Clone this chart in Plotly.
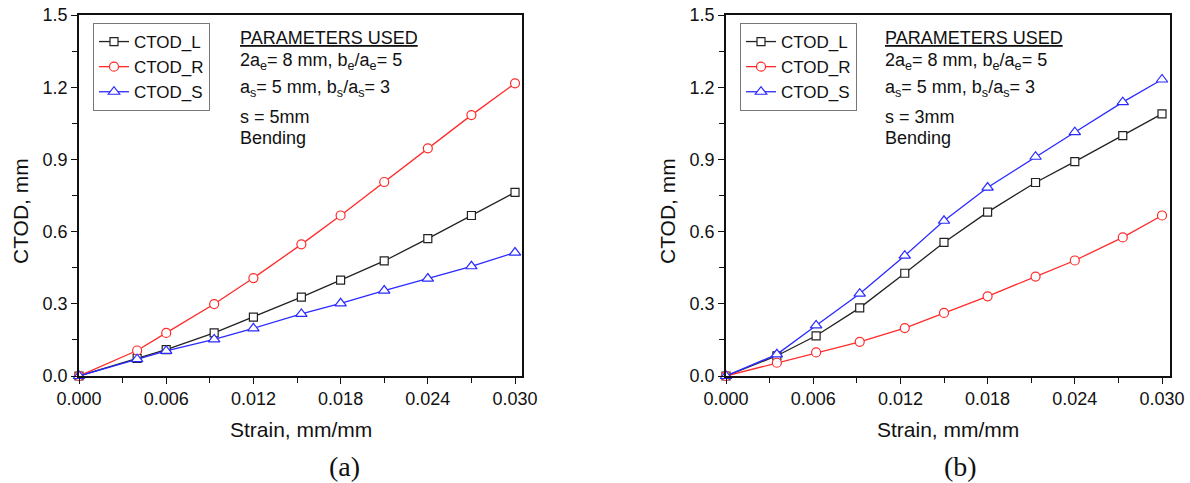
import plotly.graph_objects as go

# ---------------- data ----------------
strain_a = [0.0, 0.004, 0.006, 0.0093, 0.012, 0.0153, 0.018, 0.021, 0.024, 0.027, 0.030]
ctod_L_a = [0.0, 0.073, 0.110, 0.179, 0.245, 0.328, 0.398, 0.478, 0.571, 0.667, 0.763]
ctod_R_a = [0.0, 0.106, 0.179, 0.299, 0.407, 0.547, 0.667, 0.806, 0.946, 1.084, 1.216]
ctod_S_a = [0.0, 0.070, 0.104, 0.152, 0.198, 0.258, 0.302, 0.355, 0.405, 0.456, 0.513]

strain_b = [0.0, 0.0035, 0.0062, 0.0092, 0.0123, 0.015, 0.018, 0.0213, 0.024, 0.0273, 0.030]
ctod_L_b = [0.0, 0.084, 0.167, 0.283, 0.427, 0.555, 0.681, 0.804, 0.891, 0.999, 1.089]
ctod_R_b = [0.0, 0.055, 0.098, 0.142, 0.199, 0.262, 0.331, 0.413, 0.480, 0.576, 0.667]
ctod_S_b = [0.0, 0.090, 0.210, 0.342, 0.500, 0.645, 0.783, 0.911, 1.013, 1.138, 1.232]

series_names = ["CTOD_L", "CTOD_R", "CTOD_S"]
series_colors = ["#222222", "#ff2a2a", "#2a2aff"]
series_symbols = ["square", "circle", "triangle-up"]
series_sizes = [8, 9, 10]

param_lines_a = ["<u>PARAMETERS USED</u>",
                 "2a<sub>e</sub>= 8 mm, b<sub>e</sub>/a<sub>e</sub>= 5",
                 "a<sub>s</sub>= 5 mm, b<sub>s</sub>/a<sub>s</sub>= 3",
                 "s = 5mm",
                 "Bending"]
param_lines_b = ["<u>PARAMETERS USED</u>",
                 "2a<sub>e</sub>= 8 mm, b<sub>e</sub>/a<sub>e</sub>= 5",
                 "a<sub>s</sub>= 5 mm, b<sub>s</sub>/a<sub>s</sub>= 3",
                 "s = 3mm",
                 "Bending"]
panel_labels = ["(a)", "(b)"]
x_title = "Strain, mm/mm"
y_title = "CTOD, mm"

# ---------------- layout helpers ----------------
W, H = 1190, 483
FONT = "Liberation Sans, Arial, sans-serif"
INK = "#111111"


def px(x):
    return x / W


def py(y):
    return 1 - y / H


fig = go.Figure()

panels = [
    (strain_a, [ctod_L_a, ctod_R_a, ctod_S_a], "x", "y", "legend"),
    (strain_b, [ctod_L_b, ctod_R_b, ctod_S_b], "x2", "y2", "legend2"),
]
for xs, ys_list, xa, ya, lg in panels:
    for name, ys, col, sym, sz in zip(series_names, ys_list, series_colors,
                                      series_symbols, series_sizes):
        fig.add_trace(go.Scatter(
            x=xs, y=ys, name=name, mode="lines+markers",
            xaxis=xa, yaxis=ya, legend=lg, cliponaxis=False,
            line=dict(color=col, width=1.3),
            marker=dict(symbol=sym, size=sz, color="white",
                        line=dict(color=col, width=1.2)),
        ))

axis_common = dict(
    showline=True, linecolor=INK, linewidth=1.5, mirror=True,
    ticks="outside", ticklen=6, tickwidth=1.3, tickcolor=INK,
    showgrid=False, zeroline=False, automargin=False,
    tickfont=dict(family=FONT, size=18, color=INK),
)
xaxis_common = dict(axis_common, dtick=0.006, tick0=0, tickformat=".3f",
                    minor=dict(dtick=0.003, ticks="outside", ticklen=5,
                               tickwidth=1.2, tickcolor=INK, showgrid=False))
yaxis_common = dict(axis_common, range=[0, 1.5], dtick=0.3, tick0=0, tickformat=".1f",
                    minor=dict(dtick=0.15, ticks="outside", ticklen=5,
                               tickwidth=1.2, tickcolor=INK, showgrid=False))

legend_common = dict(yanchor="top", xanchor="left",
                     bordercolor="#777777", borderwidth=1, bgcolor="white",
                     font=dict(family=FONT, size=17, color=INK),
                     tracegroupgap=0, itemclick=False, itemdoubleclick=False)

y_dom = [py(376), py(15)]
fig.update_layout(
    template="none",
    width=W, height=H,
    margin=dict(l=0, r=0, t=0, b=0, pad=0, autoexpand=False),
    paper_bgcolor="white", plot_bgcolor="white",
    xaxis=dict(xaxis_common, domain=[px(79), px(522)], range=[0, 0.03048], anchor="y"),
    yaxis=dict(yaxis_common, domain=y_dom, anchor="x"),
    xaxis2=dict(xaxis_common, domain=[px(726), px(1170)], range=[0, 0.03055], anchor="y2"),
    yaxis2=dict(yaxis_common, domain=y_dom, anchor="x2"),
    legend=dict(legend_common, x=px(93), y=py(23)),
    legend2=dict(legend_common, x=px(740), y=py(23)),
    showlegend=True,
)

annotations = []
line_y = [38, 61, 88, 117, 138]
for lines, x0 in [(param_lines_a, 238), (param_lines_b, 883)]:
    for txt, yy in zip(lines, line_y):
        annotations.append(dict(
            text=txt, x=px(x0), y=py(yy), xref="paper", yref="paper",
            xanchor="left", yanchor="middle", showarrow=False,
            font=dict(family=FONT, size=18, color=INK)))

for cx in [301, 948]:
    annotations.append(dict(text=x_title, x=px(cx), y=py(429), xref="paper", yref="paper",
                            xanchor="center", yanchor="middle", showarrow=False,
                            font=dict(family=FONT, size=21, color=INK)))
for cx in [20, 667]:
    annotations.append(dict(text=y_title, x=px(cx), y=py(211), xref="paper", yref="paper",
                            xanchor="center", yanchor="middle", showarrow=False, textangle=-90,
                            font=dict(family=FONT, size=21, color=INK)))
for lbl, cx in zip(panel_labels, [344, 960]):
    annotations.append(dict(text=lbl, x=px(cx), y=py(466), xref="paper", yref="paper",
                            xanchor="center", yanchor="middle", showarrow=False,
                            font=dict(family="Liberation Serif, Times New Roman, serif",
                                      size=28, color=INK)))
fig.update_layout(annotations=annotations)

fig.write_html("out.html")
